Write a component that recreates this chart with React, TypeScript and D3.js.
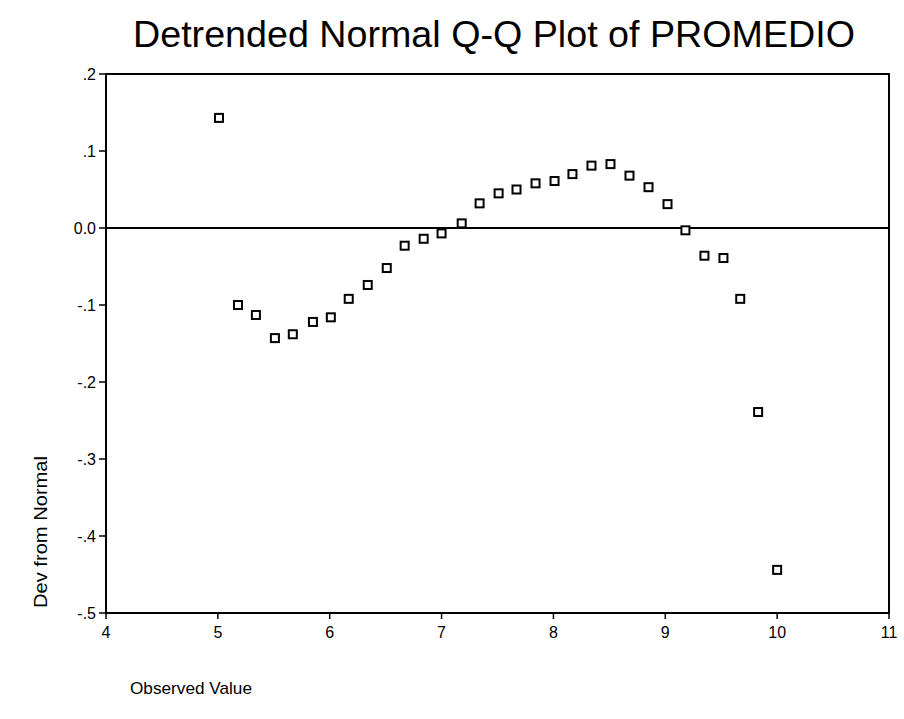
import React from "react";
import * as d3 from "d3";

const observed = [5.01, 5.18, 5.34, 5.51, 5.67, 5.85, 6.01, 6.17, 6.34, 6.51, 6.67, 6.84, 7.0, 7.18, 7.34, 7.51, 7.67, 7.84, 8.01, 8.17, 8.34, 8.51, 8.68, 8.85, 9.02, 9.18, 9.35, 9.52, 9.67, 9.83, 10.0];
const deviation = [0.143, -0.1, -0.113, -0.143, -0.138, -0.122, -0.116, -0.092, -0.074, -0.052, -0.023, -0.014, -0.007, 0.006, 0.032, 0.045, 0.05, 0.058, 0.061, 0.07, 0.081, 0.083, 0.068, 0.053, 0.031, -0.003, -0.036, -0.039, -0.092, -0.239, -0.444];
const xTicks = [4, 5, 6, 7, 8, 9, 10, 11];
const yTicks = [0.2, 0.1, 0, -0.1, -0.2, -0.3, -0.4, -0.5];
const yTickLabels = [".2", ".1", "0.0", "-.1", "-.2", "-.3", "-.4", "-.5"];

const W = 904;
const H = 719;
const left = 106;
const right = 889;
const top = 74;
const bottom = 613;
const font = "'Liberation Sans', Arial, sans-serif";

export default function App() {
  const x = d3.scaleLinear().domain([4, 11]).range([left, right]);
  const y = d3.scaleLinear().domain([-0.5, 0.2]).range([bottom, top]);
  const pts = observed.map((v, i) => ({ x: v, y: deviation[i] }));
  const m = 8;

  return (
    <svg width={W} height={H} style={{ position: "absolute", left: 0, top: 0, background: "#fff" }}>
      <rect x={0} y={0} width={W} height={H} fill="#fff" />
      <text
        x={494}
        y={47}
        textAnchor="middle"
        fontFamily={font}
        fontSize={37}
        textLength={722}
        lengthAdjust="spacingAndGlyphs"
        fill="#000"
      >
        Detrended Normal Q-Q Plot of PROMEDIO
      </text>

      {/* plot frame */}
      <rect x={left} y={top} width={right - left} height={bottom - top} fill="none" stroke="#000" strokeWidth={2} />

      {/* zero reference line */}
      <line x1={left} x2={right} y1={y(0)} y2={y(0)} stroke="#000" strokeWidth={2} />

      {/* y axis */}
      {yTicks.map((t, i) => (
        <g key={"y" + i}>
          <line x1={left - 7} x2={left} y1={y(t)} y2={y(t)} stroke="#000" strokeWidth={1.5} />
          <text x={left - 10} y={y(t)} dy="0.35em" textAnchor="end" fontFamily={font} fontSize={16} fill="#000">
            {yTickLabels[i]}
          </text>
        </g>
      ))}

      {/* x axis */}
      {xTicks.map((t) => (
        <g key={"x" + t}>
          <line x1={x(t)} x2={x(t)} y1={bottom} y2={bottom + 6} stroke="#000" strokeWidth={1.5} />
          <text x={x(t)} y={bottom + 25} textAnchor="middle" fontFamily={font} fontSize={16} fill="#000">
            {t}
          </text>
        </g>
      ))}

      {/* data markers */}
      {pts.map((p, i) => (
        <rect
          key={"p" + i}
          x={x(p.x) - m / 2}
          y={y(p.y) - m / 2}
          width={m}
          height={m}
          fill="#fff"
          stroke="#000"
          strokeWidth={2}
        />
      ))}

      <text
        transform={`translate(47, 532) rotate(-90)`}
        textAnchor="middle"
        fontFamily={font}
        fontSize={19}
        textLength={152}
        lengthAdjust="spacingAndGlyphs"
        fill="#000"
      >
        Dev from Normal
      </text>
      <text x={130} y={694} fontFamily={font} fontSize={17} textLength={122} lengthAdjust="spacingAndGlyphs" fill="#000">
        Observed Value
      </text>
    </svg>
  );
}
